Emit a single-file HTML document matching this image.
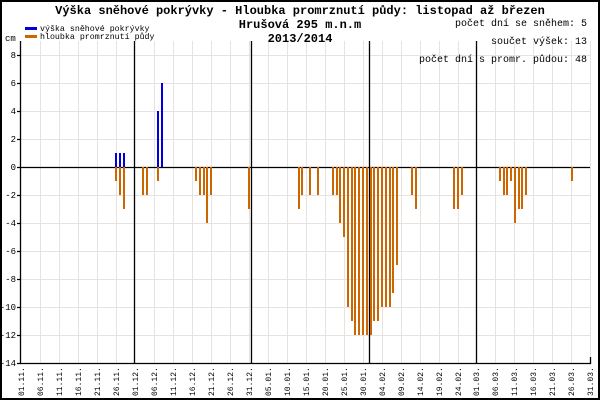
<!DOCTYPE html>
<html><head><meta charset="utf-8"><style>
html,body{margin:0;padding:0;background:#fff;width:600px;height:400px;overflow:hidden}
svg{display:block}
text{font-family:"Liberation Mono","DejaVu Sans Mono",monospace;fill:#000}
</style></head><body>
<svg width="600" height="400" viewBox="0 0 600 400" xmlns="http://www.w3.org/2000/svg">
<rect x="0" y="0" width="600" height="400" fill="#fff"/>
<g stroke="#e6e2e2" stroke-width="1">
<path d="M40.5 41V363M59.5 41V363M78.5 41V363M97.5 41V363M116.5 41V363M154.5 41V363M173.5 41V363M192.5 41V363M211.5 41V363M230.5 41V363M249.5 41V363M268.5 41V363M287.5 41V363M306.5 41V363M325.5 41V363M344.5 41V363M363.5 41V363M382.5 41V363M401.5 41V363M420.5 41V363M439.5 41V363M458.5 41V363M495.5 41V363M514.5 41V363M533.5 41V363M552.5 41V363M571.5 41V363M590.5 41V363"/>
<path d="M21 55.5H590M21 83.5H590M21 111.5H590M21 139.5H590M21 195.5H590M21 223.5H590M21 251.5H590M21 279.5H590M21 307.5H590M21 335.5H590"/>
</g>
<g stroke="#000" stroke-width="1.3">
<path d="M134.5 41V364M251.5 41V364M369.5 41V364M476.5 41V364"/>
<path d="M20.5 41V364M20 363.5H591M590.5 357V364M20 167.5H590"/>
<path d="M17 55.5H21M17 83.5H21M17 111.5H21M17 139.5H21M17 167.5H21M17 195.5H21M17 223.5H21M17 251.5H21M17 279.5H21M17 307.5H21M17 335.5H21M17 363.5H21"/>
</g>
<rect x="1" y="1" width="598" height="398" fill="none" stroke="#000" stroke-width="2"/>
<g fill="#cc6600">
<rect x="115" y="167" width="2" height="14"/>
<rect x="119" y="167" width="2" height="28"/>
<rect x="123" y="167" width="2" height="42"/>
<rect x="142" y="167" width="2" height="28"/>
<rect x="146" y="167" width="2" height="28"/>
<rect x="157" y="167" width="2" height="14"/>
<rect x="195" y="167" width="2" height="14"/>
<rect x="199" y="167" width="2" height="28"/>
<rect x="203" y="167" width="2" height="28"/>
<rect x="206" y="167" width="2" height="56"/>
<rect x="210" y="167" width="2" height="28"/>
<rect x="248" y="167" width="2" height="42"/>
<rect x="298" y="167" width="2" height="42"/>
<rect x="301" y="167" width="2" height="28"/>
<rect x="309" y="167" width="2" height="28"/>
<rect x="317" y="167" width="2" height="28"/>
<rect x="332" y="167" width="2" height="28"/>
<rect x="336" y="167" width="2" height="28"/>
<rect x="339" y="167" width="2" height="56"/>
<rect x="343" y="167" width="2" height="70"/>
<rect x="347" y="167" width="2" height="140"/>
<rect x="351" y="167" width="2" height="154"/>
<rect x="354" y="167" width="2" height="168"/>
<rect x="358" y="167" width="2" height="168"/>
<rect x="362" y="167" width="2" height="168"/>
<rect x="366" y="167" width="2" height="168"/>
<rect x="370" y="167" width="2" height="168"/>
<rect x="373" y="167" width="2" height="154"/>
<rect x="377" y="167" width="2" height="154"/>
<rect x="381" y="167" width="2" height="140"/>
<rect x="385" y="167" width="2" height="140"/>
<rect x="389" y="167" width="2" height="140"/>
<rect x="392" y="167" width="2" height="126"/>
<rect x="396" y="167" width="2" height="98"/>
<rect x="411" y="167" width="2" height="28"/>
<rect x="415" y="167" width="2" height="42"/>
<rect x="453" y="167" width="2" height="42"/>
<rect x="457" y="167" width="2" height="42"/>
<rect x="461" y="167" width="2" height="28"/>
<rect x="499" y="167" width="2" height="14"/>
<rect x="503" y="167" width="2" height="28"/>
<rect x="506" y="167" width="2" height="28"/>
<rect x="510" y="167" width="2" height="14"/>
<rect x="514" y="167" width="2" height="56"/>
<rect x="518" y="167" width="2" height="42"/>
<rect x="521" y="167" width="2" height="42"/>
<rect x="525" y="167" width="2" height="28"/>
<rect x="571" y="167" width="2" height="14"/>
</g>
<g fill="#0000dd">
<rect x="115" y="153" width="2" height="14"/>
<rect x="119" y="153" width="2" height="14"/>
<rect x="123" y="153" width="2" height="14"/>
<rect x="157" y="111" width="2" height="56"/>
<rect x="161" y="83" width="2" height="84"/>
</g>
<g font-size="9" text-anchor="end">
<text x="16" y="58">8</text><text x="16" y="86">6</text><text x="16" y="114">4</text><text x="16" y="142">2</text><text x="16" y="170">0</text>
<text x="16" y="198">-2</text><text x="16" y="226">-4</text><text x="16" y="254">-6</text><text x="16" y="282">-8</text><text x="16" y="310">-10</text><text x="16" y="338">-12</text><text x="16" y="366">-14</text>
</g>
<text x="5" y="41" font-size="9">cm</text>
<text x="300" y="14" font-size="12" font-weight="bold" text-anchor="middle">Výška sněhové pokrývky - Hloubka promrznutí půdy: listopad až březen</text>
<text x="300" y="28" font-size="12" font-weight="bold" text-anchor="middle">Hrušová 295 m.n.m</text>
<text x="300" y="42" font-size="12" font-weight="bold" text-anchor="middle">2013/2014</text>
<g font-size="10" text-anchor="end">
<text x="587" y="26">počet dní se sněhem: 5</text>
<text x="587" y="44">součet výšek: 13</text>
<text x="587" y="62">počet dní s promr. půdou: 48</text>
</g>
<rect x="25" y="27" width="12" height="3" fill="#0000dd"/>
<rect x="25" y="35" width="12" height="3" fill="#cc6600"/>
<text x="40" y="31" font-size="8.3">výška sněhové pokrývky</text>
<text x="40" y="39" font-size="8.3">hloubka promrznutí půdy</text>
<g font-size="8" text-anchor="start">
<text transform="translate(24,396) rotate(-90)">01.11.</text>
<text transform="translate(43,396) rotate(-90)">06.11.</text>
<text transform="translate(62,396) rotate(-90)">11.11.</text>
<text transform="translate(81,396) rotate(-90)">16.11.</text>
<text transform="translate(100,396) rotate(-90)">21.11.</text>
<text transform="translate(119,396) rotate(-90)">26.11.</text>
<text transform="translate(138,396) rotate(-90)">01.12.</text>
<text transform="translate(157,396) rotate(-90)">06.12.</text>
<text transform="translate(176,396) rotate(-90)">11.12.</text>
<text transform="translate(195,396) rotate(-90)">16.12.</text>
<text transform="translate(214,396) rotate(-90)">21.12.</text>
<text transform="translate(233,396) rotate(-90)">26.12.</text>
<text transform="translate(252,396) rotate(-90)">31.12.</text>
<text transform="translate(271,396) rotate(-90)">05.01.</text>
<text transform="translate(290,396) rotate(-90)">10.01.</text>
<text transform="translate(309,396) rotate(-90)">15.01.</text>
<text transform="translate(328,396) rotate(-90)">20.01.</text>
<text transform="translate(347,396) rotate(-90)">25.01.</text>
<text transform="translate(366,396) rotate(-90)">30.01.</text>
<text transform="translate(385,396) rotate(-90)">04.02.</text>
<text transform="translate(404,396) rotate(-90)">09.02.</text>
<text transform="translate(423,396) rotate(-90)">14.02.</text>
<text transform="translate(442,396) rotate(-90)">19.02.</text>
<text transform="translate(461,396) rotate(-90)">24.02.</text>
<text transform="translate(479,396) rotate(-90)">01.03.</text>
<text transform="translate(498,396) rotate(-90)">06.03.</text>
<text transform="translate(517,396) rotate(-90)">11.03.</text>
<text transform="translate(536,396) rotate(-90)">16.03.</text>
<text transform="translate(555,396) rotate(-90)">21.03.</text>
<text transform="translate(574,396) rotate(-90)">26.03.</text>
<text transform="translate(593,396) rotate(-90)">31.03.</text>
</g>
</svg>
</body></html>
